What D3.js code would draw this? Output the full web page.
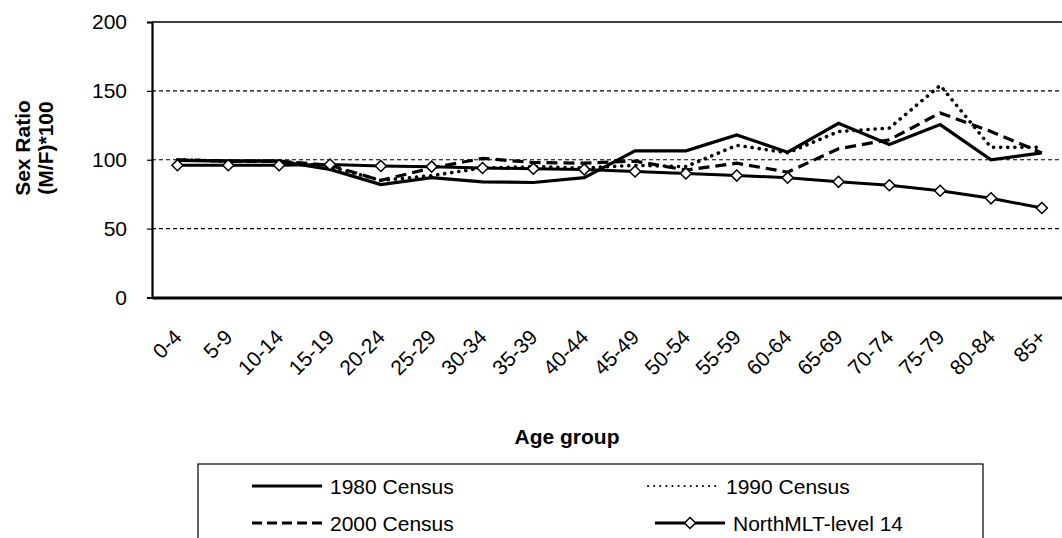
<!DOCTYPE html>
<html>
<head>
<meta charset="utf-8">
<script src="https://cdn.jsdelivr.net/npm/d3@7"></script>
<style>
  html, body { margin: 0; padding: 0; background: #fff; }
  svg { display: block; font-family: "Liberation Sans", Arial, sans-serif; }
</style>
</head>
<body>
<svg id="chart" width="1062" height="538"></svg>
<script>
const categories = ["0-4","5-9","10-14","15-19","20-24","25-29","30-34","35-39","40-44","45-49","50-54","55-59","60-64","65-69","70-74","75-79","80-84","85+"];
const census1980 = [99.5, 99, 99, 93, 82, 87, 84, 83.5, 87, 106.5, 106.5, 118, 105.5, 126.5, 111, 125.5, 100, 105];
const census1990 = [100, 99, 99, 95, 85, 88.5, 94, 95, 94, 96, 95, 110.5, 105, 120.5, 123, 154, 109, 109];
const census2000 = [100, 99, 99, 96, 85, 94, 101, 98, 97.5, 99, 92.5, 97.5, 91, 108, 114.5, 134, 120.5, 105];
const northMLT14 = [96, 96, 96, 96.5, 95.5, 95, 94, 93.5, 93, 91.5, 90, 88.5, 87, 84, 81.5, 77.5, 72, 65];
const yTicks = [0, 50, 100, 150, 200];
const seriesNames = ["1980 Census", "1990 Census", "2000 Census", "NorthMLT-level  14"];

(function () {
const svg = d3.select("#chart");
const pLeft = 152, pTop = 22, pBottom = 297.5, step = 50.85;
const pRight = pLeft + step * categories.length;
const FS = 21;

const x = d3.scalePoint().domain(categories).range([pLeft, pRight]).padding(0.5);
const y = d3.scaleLinear().domain([0, 200]).range([pBottom, pTop]);

// gridlines
svg.append("g").selectAll("line").data(yTicks.filter(d => d > 0 && d < 200)).join("line")
  .attr("x1", pLeft).attr("x2", pRight)
  .attr("y1", d => y(d)).attr("y2", d => y(d))
  .attr("stroke", "#000").attr("stroke-width", 1.2).attr("stroke-dasharray", "4,3");

// plot border (top)
svg.append("line").attr("x1", pLeft).attr("x2", pRight).attr("y1", y(200)).attr("y2", y(200))
  .attr("stroke", "#000").attr("stroke-width", 1.5);

// y axis
const yAxis = d3.axisLeft(y).tickValues(yTicks).tickSize(5).tickPadding(20);
const gy = svg.append("g").attr("transform", `translate(${pLeft},0)`).call(yAxis);
gy.select(".domain").attr("stroke-width", 2.2);
gy.selectAll(".tick line").attr("stroke-width", 1.2);
gy.selectAll(".tick text").attr("font-size", FS).attr("fill", "#000")
  .attr("font-family", "Liberation Sans, Arial, sans-serif");

// x axis
const xAxis = d3.axisBottom(x).tickSize(0).tickFormat(d => d);
const gx = svg.append("g").attr("transform", `translate(0,${pBottom})`).call(xAxis);
gx.select(".domain").attr("stroke-width", 3);
gx.selectAll(".tick text")
  .attr("font-size", FS).attr("fill", "#000")
  .attr("font-family", "Liberation Sans, Arial, sans-serif")
  .attr("text-anchor", "end")
  .attr("dy", 0).attr("y", 0)
  .attr("transform", "translate(5,41) rotate(-45)");

// lines
const line = d3.line().x((d, i) => x(categories[i])).y(d => y(d));
const styles = [
  {data: census1980, dash: null, width: 3.2, cap: "butt"},
  {data: census1990, dash: "0.1,7", width: 3.6, cap: "round"},
  {data: census2000, dash: "11,6", width: 3.2, cap: "butt"},
  {data: northMLT14, dash: null, width: 3, cap: "butt"}
];
styles.forEach(s => {
  svg.append("path").datum(s.data).attr("d", line)
    .attr("fill", "none").attr("stroke", "#000")
    .attr("stroke-width", s.width).attr("stroke-linecap", s.cap)
    .attr("stroke-linejoin", "miter")
    .attr("stroke-dasharray", s.dash);
});

// diamonds
const diamond = d3.symbol().type(d3.symbolDiamond2).size(78);
svg.append("g").selectAll("path").data(northMLT14).join("path")
  .attr("d", diamond)
  .attr("transform", (d, i) => `translate(${x(categories[i])},${y(d)})`)
  .attr("fill", "#fff").attr("stroke", "#000").attr("stroke-width", 1.5);

// axis titles
const yt = svg.append("text").attr("transform", "translate(35,148) rotate(-90)")
  .attr("text-anchor", "middle").attr("font-weight", "bold").attr("font-size", FS);
yt.append("tspan").attr("x", 0).attr("dy", "-0.25em").text("Sex Ratio");
yt.append("tspan").attr("x", 0).attr("dy", "1.1em").text("(M/F)*100");

svg.append("text").attr("x", 567).attr("y", 444).attr("text-anchor", "middle")
  .attr("font-weight", "bold").attr("font-size", FS).text("Age group");

// legend
svg.append("rect").attr("x", 198).attr("y", 464).attr("width", 785).attr("height", 100)
  .attr("fill", "#fff").attr("stroke", "#000").attr("stroke-width", 1.2);
const legendItems = [
  {name: seriesNames[0], x: 252, y: 486, dash: null, width: 3.2, cap: "butt", marker: false},
  {name: seriesNames[1], x: 648, y: 486, dash: "0.1,6", width: 2, cap: "round", marker: false},
  {name: seriesNames[2], x: 252, y: 523, dash: "10,5", width: 3.2, cap: "butt", marker: false},
  {name: seriesNames[3], x: 655, y: 523, dash: null, width: 3.2, cap: "butt", marker: true}
];
const lg = svg.append("g").selectAll("g").data(legendItems).join("g");
lg.append("line").attr("x1", d => d.x).attr("x2", d => d.x + 70)
  .attr("y1", d => d.y).attr("y2", d => d.y)
  .attr("stroke", "#000").attr("stroke-width", d => d.width)
  .attr("stroke-linecap", d => d.cap).attr("stroke-dasharray", d => d.dash);
lg.filter(d => d.marker).append("path").attr("d", diamond)
  .attr("transform", d => `translate(${d.x + 35},${d.y})`)
  .attr("fill", "#fff").attr("stroke", "#000").attr("stroke-width", 1.5);
lg.append("text").attr("x", d => d.x + 78).attr("y", d => d.y).attr("dy", "0.36em")
  .attr("font-size", FS).text(d => d.name);
})();
</script>
</body>
</html>
